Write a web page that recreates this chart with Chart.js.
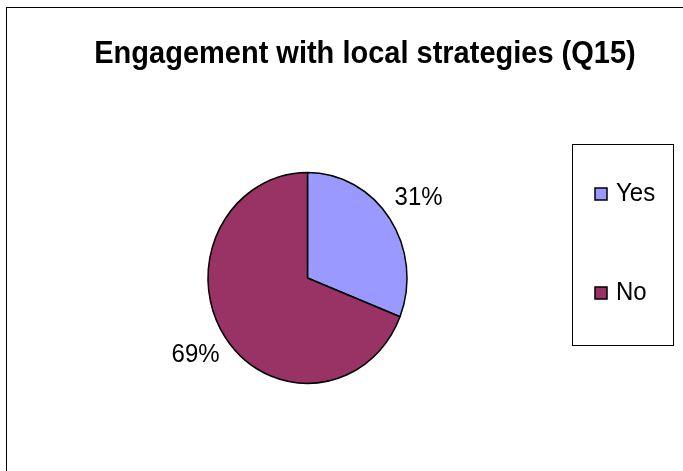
<!DOCTYPE html>
<html>
<head>
<meta charset="utf-8">
<script src="https://cdn.jsdelivr.net/npm/chart.js@4.4.1/dist/chart.umd.min.js"></script>
<style>
  html, body { margin: 0; padding: 0; background: #ffffff; }
  #wrap { position: relative; width: 683px; height: 471px; overflow: hidden; }
  #frame { position: absolute; left: 6px; top: 7px; width: 700px; height: 500px; border: 1px solid #000; box-sizing: border-box; }
  canvas { position: absolute; left: 0; top: 0; }
</style>
</head>
<body>
<div id="wrap">
  <div id="frame"></div>
  <canvas id="c" width="683" height="471"></canvas>
</div>
<script>
const chartTitle = 'Engagement with local strategies (Q15)';
const categories = ['Yes', 'No'];
const values = [31, 69];
const valueLabels = ['31%', '69%'];
const sliceColors = ['#9999FF', '#993366'];

const FONT = '"Liberation Sans", Arial, Helvetica, sans-serif';
const Y_SCALE = 1.06;
const labelDist = [1.35, 1.36];

function stretchedText(ctx, text, x, y) {
  ctx.save();
  ctx.translate(x, y);
  ctx.scale(1, Y_SCALE);
  ctx.fillText(text, 0, 0);
  ctx.restore();
}

const ellipsePlugin = {
  id: 'ellipse',
  beforeDatasetsDraw(chart) {
    const a = chart.getDatasetMeta(0).data[0];
    const ctx = chart.ctx;
    ctx.save();
    ctx.translate(a.x, a.y);
    ctx.scale(1, Y_SCALE);
    ctx.translate(-a.x, -a.y);
  },
  afterDatasetsDraw(chart) {
    chart.ctx.restore();
  }
};

const decorPlugin = {
  id: 'decor',
  afterDraw(chart) {
    const ctx = chart.ctx;
    const meta = chart.getDatasetMeta(0);
    ctx.save();
    // title
    ctx.fillStyle = '#000';
    ctx.font = 'bold 29px ' + FONT;
    ctx.textAlign = 'center';
    ctx.textBaseline = 'middle';
    stretchedText(ctx, chartTitle, 365, 55);

    // value labels
    ctx.font = '24px ' + FONT;
    ctx.textAlign = 'center';
    ctx.textBaseline = 'middle';
    meta.data.forEach((arc, i) => {
      const mid = (arc.startAngle + arc.endAngle) / 2;
      const r = arc.outerRadius * labelDist[i];
      const x = arc.x + Math.cos(mid) * r;
      const y = arc.y + Math.sin(mid) * r * (Y_SCALE - 0.05 * i);
      stretchedText(ctx, valueLabels[i], x, y);
    });

    // legend box
    ctx.strokeStyle = '#000';
    ctx.lineWidth = 1;
    ctx.strokeRect(572.5, 144.5, 101, 201);
    ctx.font = '24px ' + FONT;
    ctx.textAlign = 'left';
    ctx.textBaseline = 'middle';
    categories.forEach((c, i) => {
      const cy = 194 + i * 99;
      ctx.fillStyle = sliceColors[i];
      ctx.fillRect(595, cy - 6, 12, 12);
      ctx.strokeStyle = '#000';
      ctx.lineWidth = 1.5;
      ctx.strokeRect(595, cy - 6, 12, 12);
      ctx.fillStyle = '#000';
      stretchedText(ctx, c, 616, cy);
    });
    ctx.restore();
  }
};

new Chart(document.getElementById('c'), {
  type: 'pie',
  data: {
    labels: categories,
    datasets: [{
      data: values,
      backgroundColor: sliceColors,
      borderColor: '#000000',
      borderWidth: 1.5,
      hoverOffset: 0
    }]
  },
  options: {
    responsive: false,
    animation: false,
    devicePixelRatio: 1,
    radius: 99.5,
    rotation: 0,
    layout: { padding: { left: 200, right: 268, top: 170, bottom: 85 } },
    plugins: {
      legend: { display: false },
      title: { display: false },
      tooltip: { enabled: false }
    },
    events: []
  },
  plugins: [ellipsePlugin, decorPlugin]
});
</script>
</body>
</html>
